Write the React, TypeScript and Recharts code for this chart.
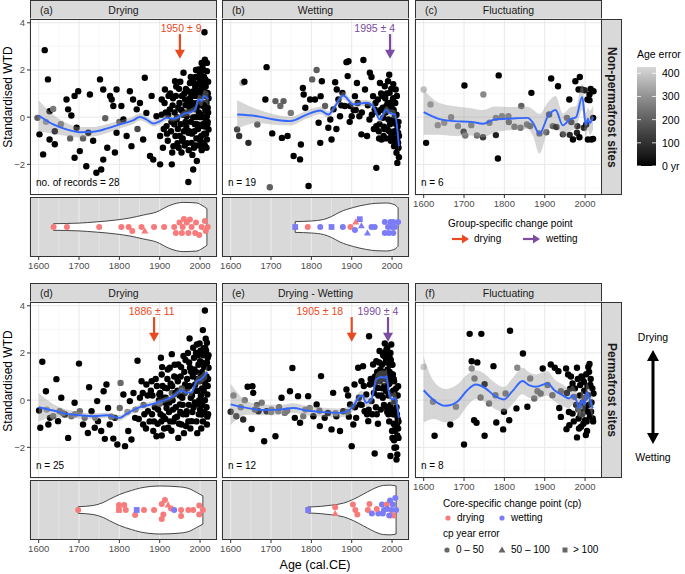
import React from "react";
import {
  Area,
  CartesianGrid,
  ComposedChart,
  Line,
  ReferenceDot,
  ReferenceLine,
  Scatter,
  XAxis,
  YAxis,
} from "recharts";

// [year, standardised WTD, age error (yr)] — age error omitted = 0
type Pt = [number, number, number?];
// [year, lower, fit, upper]
type Sm = [number, number, number, number];
// [year, violin half width]
type Vw = [number, number];
// [year, vertical offset, direction, error class 0:0-50 1:50-100 2:>100]
type Vp = [number, number, "d" | "w", number];

const xMajor = [1600, 1700, 1800, 1900, 2000];
const xMinor = [1650, 1750, 1850, 1950];
const yMajor = [-2, 0, 2, 4];
const yMinor = [-3, -1, 1, 3];
const ageTicks = [0, 100, 200, 300, 400];

const ptsA: Pt[] = [
  [1597, -0.03, 200], [1602, -0.73], [1615, 2.84], [1623, 1.6], [1611, -1.58], [1627, 0.25], [1627, -0.95],
  [1618, -0.2, 300], [1640, -0.6], [1640, -1.15], [1636, 0.35, 250], [1655, -0.3, 250], [1669, 0.75],
  [1673, 0.33], [1681, 0.07], [1689, 0.9], [1698, 1.1], [1694, -0.45], [1689, -1.72], [1702, -1.44],
  [1678, -0.9, 200], [1710, -0.9, 200], [1718, -2.08], [1727, 0.96], [1723, -0.66], [1735, -1.0],
  [1743, -2.36], [1752, 1.6], [1760, 1.17], [1755, -2.22], [1760, -1.8], [1765, -0.05, 200], [1777, 0.9],
  [1781, 0.75], [1793, 1.17], [1789, -1.5], [1793, -0.66], [1785, 0.47], [1770, -1.3], [1800, -0.2, 200],
  [1810, -0.1], [1805, 0.47], [1818, -0.8], [1826, 1.1], [1834, 0.75], [1830, -1.23], [1843, 0.33],
  [1851, 0.6], [1863, 1.67], [1867, 0.18], [1859, -0.95], [1845, -0.5, 150], [1876, -1.65], [1880, 0.9],
  [1884, -1.8], [1892, 0.04], [1901, -2.0], [1901, -0.8], [1905, 0.75], [1913, 1.17], [1917, -0.38],
  [1925, 0.33], [1930, -2.0], [1934, -1.23], [1938, 1.52], [1942, -0.1], [1950, -0.8], [1954, -1.5],
  [1959, 1.88], [1963, 0.75], [1967, 0.04], [1971, -2.75], [1971, -0.66], [1975, 1.45], [1979, -1.09],
  [1983, -2.22], [1988, 0.33], [1992, -1.86], [1992, 1.03], [1996, 2.02], [2000, 1.6], [2000, -0.38],
  [2004, 2.3], [2008, 0.47], [2011, 3.6], [2012, 2.44], [2017, 1.95], [2017, 0.04], [2018, 1.03],
  [2021, -0.52], [2017, -0.95], [1910, -0.5], [1915, 0.2], [1920, -1.0], [1922, 0.9], [1928, -0.6],
  [1932, 0.5], [1936, -0.3], [1940, 0.9], [1944, -1.1], [1946, 0.4], [1948, 1.2], [1952, -0.3], [1955, 0.9],
  [1957, -0.9], [1960, 0.2], [1962, -1.2], [1965, 1.2], [1966, -0.4], [1969, 0.6], [1972, -1.4], [1974, 0.3],
  [1977, -0.2], [1978, 1.0], [1980, -0.7], [1982, 0.6], [1984, 1.5], [1985, -1.3], [1987, -0.3], [1989, 1.7],
  [1990, 0.0], [1991, -0.9], [1993, 0.6], [1994, 1.4], [1995, -0.5], [1997, 0.2], [1998, -1.2], [1999, 1.0],
  [2001, 0.0], [2002, 1.9], [2003, -0.8], [2005, 0.9], [2006, 1.5], [2007, -0.3], [2009, 1.2], [2010, -0.7],
  [2012, 0.6], [2013, 1.6], [2014, -0.2], [2015, 0.9], [2016, -1.3], [2019, 0.4], [2020, 1.5], [2019, -0.2],
  [1985, 0.9], [1975, 0.8], [1960, -0.6], [1945, -0.5], [1998, 0.5], [2008, 2.0], [2004, -1.4], [1990, 2.0],
  [1905, 0.1], [1908, -1.3], [1912, 0.6], [1918, -0.7], [1921, 0.1], [1926, 1.0], [1929, -0.2], [1931, -1.5],
  [1933, 0.8], [1937, 0.2], [1939, -0.8], [1941, 1.3], [1943, 0.0], [1947, -1.3], [1949, 0.6], [1951, 1.5],
  [1953, 0.3], [1956, -1.0], [1958, 0.1], [1961, 1.0], [1964, -0.2], [1964, 0.5], [1968, -1.1], [1970, 1.1],
  [1973, -0.6], [1976, 0.4], [1977, 1.7], [1979, 0.5], [1981, -1.6], [1983, 0.0], [1984, 1.1], [1986, -0.6],
  [1988, 1.3], [1989, -1.2], [1991, 0.4], [1993, -0.3], [1994, 0.9], [1996, 1.1], [1997, -0.9], [1999, 1.8],
  [2000, 0.6], [2001, -1.0], [2003, 1.3], [2004, 0.1], [2006, 2.1], [2007, -1.1], [2008, 1.1], [2009, 0.0],
  [2010, 1.7], [2011, -0.4], [2012, -1.2], [2013, 0.3], [2014, 1.3], [2015, -0.7], [2016, 0.6], [2017, 2.3],
  [2018, -0.3], [2019, 1.0], [2020, 0.2], [2021, 0.8],
];

const ptsB: Pt[] = [
  [1629, 1.45, 380], [1634, 1.5], [1616, -0.52, 150], [1621, -0.8, 100], [1644, -1.09, 80], [1666, -0.31, 200],
  [1686, 0.75], [1689, 2.12], [1697, -2.97, 200], [1703, -0.69], [1711, 0.68, 200], [1723, 0.47, 220],
  [1727, -0.88], [1731, 0.68, 200], [1741, -0.8], [1749, 0.18, 250], [1756, -1.65], [1774, -1.16],
  [1772, -1.79], [1779, 1.24], [1781, 0.96], [1785, 0.4], [1793, -2.92], [1797, 0.75], [1802, 1.6, 200],
  [1813, 2.0, 200], [1809, 0.75], [1818, -0.24], [1822, -1.09], [1826, 1.52], [1823, 0.89], [1834, 0.47, 200],
  [1842, -0.45], [1847, -0.1], [1850, -0.95], [1855, 0.33], [1859, 1.48], [1863, 1.17], [1867, 0.75],
  [1871, 0.04], [1877, 1.03], [1883, 0.47], [1887, 2.33], [1892, 2.37], [1890, 1.74], [1896, 0.47],
  [1900, 0.04], [1908, 0.89], [1913, 1.45], [1919, 0.04], [1929, 2.42], [1924, -0.73], [1933, 1.17],
  [1938, -0.8], [1945, 1.88], [1949, 1.7], [1953, 0.89], [1957, 0.33], [1961, -2.15], [1961, -0.38],
  [1965, 0.75], [1970, 1.45], [1974, -0.95], [1978, -0.03], [1982, 1.31], [1986, 0.47], [1988, -0.52],
  [1990, 1.52], [1994, 1.03], [1998, -0.8], [2002, 0.75], [2005, -1.23], [2007, 0.04], [2011, -1.51],
  [2013, -1.94], [2015, -0.66], [2009, 1.17], [2015, -1.09], [1905, 0.3], [1915, 0.6], [1925, 0.2],
  [1940, 0.5], [1950, 0.1], [1955, -0.5], [1967, -0.6], [1972, 0.3], [1976, 0.9], [1980, -0.4], [1984, 0.2],
  [1992, 0.3], [1995, -0.3], [1996, 0.6], [2000, -0.2], [2003, 1.4], [2004, 0.3], [2006, -0.6], [2008, 0.6],
  [2010, -0.3], [2012, 0.9], [2014, -1.3], [2016, -0.2], [2017, -1.7], [1993, 1.8], [1987, 1.0], [1979, -0.8],
  [1968, -0.9], [1959, 0.6], [1944, -0.1], [1910, 0.3], [1895, -0.2], [1874, 0.5], [1862, -0.5],
  [1965, 0.2], [1969, -0.3], [1973, 1.0], [1977, 0.4], [1981, -0.5], [1983, 0.8], [1985, -0.9], [1989, 0.6],
  [1991, -0.1], [1997, -1.0], [1999, 0.4], [2001, -0.7], [2004, -0.1], [2006, -1.0], [2009, -0.9], [2011, 0.1],
  [2012, -0.6], [2013, -1.0], [2014, -0.4], [2016, -1.3], [2017, -0.8], [2003, 0.8], [1998, 1.2], [1993, -0.6],
];

const ptsC: Pt[] = [
  [1600, 1.17, 380], [1606, -1.09], [1617, 0.54, 300], [1635, -0.34, 280], [1651, -0.24, 280], [1668, 0, 260],
  [1685, -0.38, 260], [1701, 1.34], [1699, -0.62, 80], [1703, -0.78, 250], [1718, -0.34, 250],
  [1732, -0.78, 230], [1748, 0.96, 280], [1747, -0.85, 120], [1763, -0.24, 250], [1779, -0.76, 60],
  [1779, -0.03, 250], [1786, 1.77], [1784, -1.75], [1794, 0.04, 250], [1810, 0.04, 250], [1811, -0.21, 200],
  [1825, -0.41, 230], [1840, -0.45, 230], [1842, 0.47, 200], [1856, -0.31, 230], [1867, 1.03],
  [1864, -0.38, 200], [1887, -0.69, 200], [1904, -0.64, 200], [1911, 0.11, 150], [1916, 1.64],
  [1920, -0.38, 200], [1933, 1.31], [1929, -0.42, 120], [1945, -0.73, 80], [1955, -0.03, 200], [1961, 0.75],
  [1962, -0.75, 80], [1970, -0.95], [1966, -0.21, 100], [1976, 1.52], [1981, -0.38, 100], [1980, -0.66, 60],
  [1986, -0.85], [1987, 1.7], [1984, 1.17], [1992, 1.17], [1997, -0.45, 80], [1999, 1.14, 60], [2007, -0.95],
  [2011, 0.72], [2011, 0.96], [2014, 1.2], [2016, -0.95], [2020, -0.03], [2021, 1.1], [2020, -0.92],
  [2003, -0.31], [2006, 0.75],
];

const ptsD: Pt[] = [
  [1604, -1.17], [1601, -0.44], [1609, 1.63], [1618, 0.38], [1624, -1.03], [1628, -0.75], [1636, -0.68, 220],
  [1644, 0.89], [1648, -0.89], [1656, 0.1], [1652, -0.47, 220], [1665, -0.61], [1673, -1.6], [1681, -0.68, 220],
  [1689, -0.11], [1700, 1.55], [1702, -0.47, 220], [1710, -1.03], [1714, -0.75, 220], [1722, -1.39],
  [1725, 0.55], [1731, -0.47], [1739, -1.17], [1745, -0.04], [1747, -0.89], [1755, -1.31], [1761, 0.38],
  [1764, -1.64], [1768, 0.66], [1772, -0.33], [1776, -1.03], [1785, -1.63], [1789, -0.75], [1795, -1.88],
  [1801, -0.33, 220], [1803, 0.73, 220], [1814, -1.95], [1810, 0.24], [1822, -1.31], [1826, -0.04],
  [1830, -1.67], [1839, -0.75], [1845, 1.67], [1851, 0.1], [1859, -1.03], [1867, 0.66], [1871, -0.47],
  [1880, 0.8], [1884, -1.31], [1892, -1.53], [1899, 0.24], [1903, 1.8], [1905, 1.09], [1909, -0.68],
  [1913, 0.52], [1917, -0.33], [1921, -1.17], [1925, 1.37], [1930, 1.95], [1934, 0.24], [1938, -0.75],
  [1942, 0.95], [1946, 1.51], [1950, -0.18], [1954, -1.03], [1959, 1.87], [1963, 0.66], [1967, -0.47],
  [1974, 2.61], [1975, 1.37], [1979, -0.89], [1983, 2.22], [1988, 0.66], [1992, 2.36], [1996, -0.18],
  [2000, 1.65], [2004, -0.61], [2007, 2.97], [2010, 0.95], [2012, 3.8], [2015, 2.08], [2017, 2.43],
  [2018, 0.24], [2021, 1.37], [2017, -1.03], [1855, 0.8], [1862, -0.6], [1870, 0.2], [1875, -0.9], [1878, 0.4],
  [1888, -0.3], [1890, 0.9], [1895, -1.0], [1898, 0.0], [1902, -0.6], [1907, 0.6], [1911, -1.2], [1915, 0.1],
  [1919, 0.9], [1923, -0.5], [1927, 0.7], [1929, -1.3], [1932, 0.0], [1936, 1.0], [1940, -0.3], [1944, 0.4],
  [1948, -1.0], [1952, 1.0], [1956, 0.1], [1958, -0.6], [1961, 1.2], [1965, -1.1], [1969, 0.5], [1972, -0.2],
  [1973, 1.6], [1977, 0.1], [1981, -0.5], [1982, 1.0], [1985, 1.8], [1987, -0.1], [1990, 1.2], [1991, -0.9],
  [1994, 0.4], [1995, 1.9], [1997, -0.6], [1999, 0.8], [2001, 2.1], [2002, 0.2], [2003, -1.2], [2005, 1.2],
  [2006, -0.2], [2008, 1.9], [2009, 0.4], [2011, -0.5], [2012, 1.5], [2013, 0.7], [2014, 2.6], [2016, 1.0],
  [2016, -0.3], [2019, 1.8], [2019, 0.6], [2020, -0.6], [1993, -1.4], [1976, -1.2], [1960, -1.4],
  [1946, -1.6], [1934, -0.9], [1912, -0.1], [1905, -1.5], [1881, -0.6], [1866, -1.2], [1858, 0.3],
  [1848, -0.8], [1835, 0.3], [1820, -0.5, 300], [1840, -0.4, 250], [1780, -0.7, 200], [1740, -0.75, 250],
  [1690, -0.6, 250], [1660, -0.55, 200], [1620, -0.4, 300], [1860, -0.2, 200], [1900, -0.15, 200],
  [1930, 0.3, 180], [1955, 0.5, 150], [1882, 0.2], [1886, -0.9], [1893, 0.6], [1896, -0.4], [1901, 0.3],
  [1904, -0.9], [1906, 1.4], [1910, 0.1], [1914, -0.8], [1918, 0.5], [1920, 1.3], [1924, -0.1], [1926, -0.9],
  [1931, 0.6], [1933, -0.4], [1937, 1.5], [1939, 0.3], [1943, -0.7], [1945, 0.8], [1949, 0.2], [1951, -0.5],
  [1953, 1.4], [1957, -0.2], [1962, 0.3], [1964, 1.7], [1966, -0.6], [1968, 0.9], [1970, 2.0], [1971, -0.9],
  [1974, 0.6], [1978, 1.2], [1980, 0.2], [1984, -0.3], [1986, 1.3], [1989, 0.4], [1990, 2.0], [1993, 0.9],
  [1996, 1.5], [1998, 0.0], [1999, 2.4], [2000, -0.4], [2002, 1.0], [2004, 1.6], [2005, 0.5], [2007, -0.9],
  [2009, 2.2], [2010, 1.4], [2012, 0.0], [2013, 2.2], [2015, 0.6], [2017, 1.6], [2018, -0.7], [2020, 0.9],
  [2021, 1.9],
];

const ptsE: Pt[] = [
  [1600, -0.49, 80], [1607, 0.2, 250], [1614, -0.68, 80], [1631, -0.82, 80], [1635, 0, 250], [1642, 0.57],
  [1654, 0.59], [1656, 0.31], [1652, -1.22], [1669, -0.47], [1677, -0.11, 250], [1683, -1.74], [1689, -0.47],
  [1701, -0.4, 250], [1711, -1.53], [1718, -0.47, 250], [1726, 0.1], [1734, -0.54, 250], [1747, 0.38],
  [1753, 1.36], [1759, -0.75], [1767, 0.17], [1772, -0.96], [1780, -0.68, 250], [1792, 0.17],
  [1796, -0.33, 250], [1805, -0.68], [1813, -0.18], [1821, -1.1], [1824, 1.02], [1833, -0.75], [1841, -0.54],
  [1850, -1.24], [1854, 0.31], [1862, -0.68], [1871, -1.31], [1879, -0.47], [1887, 0.45], [1891, 0.2],
  [1896, -0.18], [1900, -1.95], [1904, -1.03], [1907, 0.66], [1911, -0.75], [1916, 1.37], [1920, -0.18],
  [1924, 0.8], [1928, 1.44], [1932, -0.47], [1936, 0.24], [1941, -0.89], [1943, 2.71], [1945, 0.66],
  [1949, -0.04], [1953, 1.51], [1957, -2.26], [1961, 1.65], [1965, 0.52], [1969, 2.08], [1973, 1.09],
  [1977, 0.1], [1981, 1.87], [1986, 2.15], [1990, 0.66], [1994, 1.8], [1998, 2.36], [1996, -2.37],
  [2000, -1.31], [2002, 1.09], [2006, -2.02], [2008, -0.61], [2011, -2.52], [2012, -1.03], [2015, 0.59],
  [2016, -1.6], [2006, -0.04], [2002, -0.47], [1925, -0.2], [1930, 0.6], [1938, -0.6], [1947, 0.9],
  [1951, -0.6], [1955, 0.3], [1958, 1.0], [1960, -0.3], [1963, 1.2], [1966, 0.2], [1968, 1.6], [1970, 0.8],
  [1972, -0.4], [1975, 1.5], [1976, 0.5], [1979, 1.2], [1980, -0.2], [1983, 0.9], [1984, 1.6], [1985, 0.4],
  [1987, 1.9], [1988, -0.5], [1989, 1.3], [1991, 0.2], [1992, 1.0], [1993, -0.9], [1995, 1.5], [1997, 0.3],
  [1999, -0.4], [2000, 1.0], [2001, -1.6], [2003, 0.4], [2004, -1.0], [2005, 0.8], [2007, -1.3], [2009, 0.2],
  [2010, -2.0], [2011, -0.3], [2013, -1.5], [2014, -0.8], [1996, 2.0], [1982, 2.4], [1978, 1.9],
  [1965, -1.0], [1942, -0.4], [1918, 0.1], [1908, -0.3], [1893, -0.7], [1625, -0.3, 250], [1660, -0.4, 200],
  [1700, -0.5, 250], [1740, -0.45, 220], [1785, -0.4, 250], [1820, -0.45, 200], [1860, -0.55, 250],
  [1890, -0.5, 200], [1665, -0.2, 200], [1720, -0.3, 200], [1950, 0.9], [1957, 0.7], [1962, -0.6],
  [1967, 0.9], [1971, 1.3], [1974, 0.2], [1977, 2.0], [1981, 0.6], [1984, 1.1], [1986, -0.3], [1988, 2.2],
  [1990, 1.6], [1991, -0.6], [1993, 0.7], [1994, 1.2], [1996, -0.2], [1997, 1.7], [1998, 0.8], [2000, 0.3],
  [2001, 1.5], [2003, -0.6], [2004, 0.9], [2005, -1.7], [2006, 0.4], [2008, -1.1], [2009, -0.4], [2010, 0.5],
  [2012, -0.6], [2013, -2.3], [2015, -1.2], [2016, -0.9], [2014, 0.2], [1999, 1.1], [1992, 2.0], [1985, 1.7],
];

const ptsF: Pt[] = [
  [1600, 1.41, 400], [1623, -0.07, 250], [1627, -1.51], [1666, -1.03], [1680, -0.28, 250], [1700, -1.88],
  [1714, 2.81], [1719, 1.65], [1719, 1.34, 280], [1726, 0.92, 220], [1733, 1.6], [1725, -0.85], [1731, -0.96],
  [1743, 2.81], [1741, 0.11, 220], [1751, 0.68], [1751, -1.51], [1762, -0.14, 220], [1773, 1.44],
  [1778, 0.21, 220], [1780, -0.95], [1797, -1.24], [1799, -0.49], [1803, 0.28, 220], [1814, 2.94],
  [1812, -0.85], [1830, -0.35], [1832, 1.37, 280], [1846, 1.98], [1857, -0.28], [1864, 0.92, 230],
  [1874, 0.07, 220], [1882, 0.38, 220], [1890, 0.28, 200], [1895, 1.34], [1907, 0.64, 200], [1915, 1.51],
  [1919, 0.21, 200], [1925, 1.37], [1934, 1.23], [1936, -0.33], [1940, -0.71], [1940, 0.38, 200],
  [1953, 1.34], [1954, -1.23], [1958, 1.09], [1961, -1.06], [1963, 0.49], [1969, 0.71], [1969, -0.57],
  [1973, 0.14, 200], [1980, 1.37], [1980, -1.58], [1984, -0.78], [1986, -0.24, 200], [1988, 0.64],
  [1990, -1.13], [1993, 0.92], [1995, -0.49], [1997, 0.78], [2000, -0.85], [2002, -1.48], [2005, -1.31],
  [2007, 0.21], [2008, 1.41], [2011, 1.53], [2013, 0.64], [2015, -0.49], [2019, -0.78], [2021, 0.28],
  [2007, -0.49], [1955, 0.3], [1960, -0.5], [1965, 1.0], [1972, -0.9], [1975, 0.5], [1978, -0.2], [1982, 0.9],
  [1985, -1.2], [1987, 0.2], [1989, -0.6], [1991, 1.0], [1994, -0.1], [1996, -1.0], [1998, 0.4], [2001, -0.3],
  [2003, 1.1], [2004, -0.9], [2006, 0.6], [2009, -0.2], [2010, 1.2], [2012, -0.7], [2014, 0.9], [2016, -0.1],
  [2018, 0.5], [2020, -0.9], [1983, -0.4, 150], [1993, -0.6, 150], [2000, 0.1, 150],
];

const smA: Sm[] = [
  [1600, -0.6, 0.07, 0.72], [1636, -0.7, -0.31, 0.1], [1669, -0.8, -0.52, -0.25], [1702, -0.86, -0.64, -0.42],
  [1735, -0.82, -0.62, -0.42], [1768, -0.68, -0.49, -0.3], [1801, -0.48, -0.31, -0.14], [1834, -0.3, -0.14, 0.02],
  [1851, -0.14, 0.01, 0.16], [1867, -0.24, -0.1, 0.04], [1884, -0.4, -0.27, -0.14], [1901, -0.3, -0.17, -0.04],
  [1917, -0.15, -0.03, 0.09], [1934, -0.19, -0.07, 0.05], [1950, -0.08, 0.04, 0.16], [1963, 0.02, 0.16, 0.3],
  [1975, 0.05, 0.2, 0.35], [1988, 0.15, 0.32, 0.49], [1996, 0.55, 0.75, 0.95], [2004, 0.45, 0.68, 0.91],
  [2010, 0.65, 0.9, 1.15], [2021, 0.45, 0.75, 1.05],
];
const smB: Sm[] = [
  [1616, -0.5, 0.11, 0.72], [1666, -0.25, 0.04, 0.33], [1707, -0.32, -0.1, 0.12], [1748, -0.35, -0.17, 0.01],
  [1789, -0.06, 0.11, 0.28], [1822, 0.12, 0.28, 0.44], [1842, -0.03, 0.11, 0.25], [1859, 0.32, 0.47, 0.62],
  [1879, 0.75, 0.92, 1.09], [1904, 0.4, 0.54, 0.68], [1937, 0.48, 0.61, 0.74], [1953, 0.33, 0.47, 0.61],
  [1970, -0.25, -0.1, 0.05], [1986, 0.17, 0.32, 0.47], [1994, 0.02, 0.18, 0.34], [2007, -0.07, 0.11, 0.29],
  [2017, -1.55, -1.23, -0.91],
];
const smC: Sm[] = [
  [1600, -0.75, 0.21, 1.17], [1635, -0.75, -0.06, 0.63], [1676, -0.8, -0.17, 0.46], [1718, -0.78, -0.2, 0.38],
  [1747, -0.85, -0.28, 0.3], [1776, -0.65, -0.1, 0.45], [1817, -0.55, -0.06, 0.43], [1858, -0.5, -0.03, 0.44],
  [1871, -0.8, -0.24, 0.32], [1887, -1.55, -0.71, 0.13], [1908, -0.55, 0.04, 0.63], [1927, -0.3, 0.3, 0.9],
  [1945, -0.85, -0.35, 0.15], [1962, -0.6, -0.1, 0.4], [1978, -0.45, 0.01, 0.47], [1993, 0.3, 0.86, 1.42],
  [2002, -0.85, -0.34, 0.17], [2007, -0.55, -0.07, 0.41], [2012, -0.75, -0.24, 0.27], [2020, -0.5, 0, 0.5],
];
const smD: Sm[] = [
  [1600, -0.9, -0.3, 0.3], [1636, -0.72, -0.44, -0.16], [1669, -0.76, -0.58, -0.4], [1702, -0.78, -0.64, -0.5],
  [1735, -0.8, -0.68, -0.56], [1768, -0.76, -0.64, -0.52], [1801, -0.87, -0.75, -0.63], [1818, -0.7, -0.58, -0.46],
  [1851, -0.42, -0.3, -0.18], [1884, -0.28, -0.16, -0.04], [1917, -0.09, 0.03, 0.15], [1934, 0.04, 0.17, 0.3],
  [1954, 0.27, 0.41, 0.55], [1967, 0.16, 0.31, 0.46], [1979, 0.19, 0.34, 0.49], [1992, 0.63, 0.81, 0.99],
  [2002, 0.68, 0.88, 1.08], [2010, 0.8, 1.02, 1.24], [2018, 0.92, 1.2, 1.48],
];
const smE: Sm[] = [
  [1600, -1.05, -0.18, 0.69], [1640, -0.62, -0.33, -0.04], [1681, -0.64, -0.42, -0.2], [1722, -0.6, -0.4, -0.2],
  [1755, -0.53, -0.33, -0.13], [1788, -0.64, -0.44, -0.24], [1829, -0.7, -0.51, -0.32], [1871, -0.73, -0.54, -0.35],
  [1887, -0.68, -0.49, -0.3], [1904, -0.45, -0.25, -0.05], [1920, -0.03, 0.17, 0.37], [1926, 0.0, 0.2, 0.4],
  [1936, -0.31, -0.11, 0.09], [1949, -0.17, 0.03, 0.23], [1961, 0.63, 0.88, 1.13], [1974, 0.7, 0.98, 1.26],
  [1982, 0.65, 0.95, 1.25], [1986, 0.72, 1.02, 1.32], [1993, -0.04, 0.24, 0.52], [2001, -0.22, 0.03, 0.28],
  [2007, -0.17, 0.1, 0.37], [2017, -1.1, -0.75, -0.4],
];
const smF: Sm[] = [
  [1600, -0.95, 0.42, 1.84], [1625, -0.8, 0, 0.8], [1654, -0.95, -0.24, 0.47], [1683, -0.8, -0.07, 0.66],
  [1708, -0.25, 0.42, 1.09], [1729, 0.05, 0.66, 1.27], [1754, -0.1, 0.49, 1.08], [1774, -0.35, 0.21, 0.77],
  [1799, -0.5, 0.03, 0.56], [1820, -0.17, 0.38, 0.93], [1845, 0.25, 0.81, 1.37], [1861, 0.1, 0.64, 1.18],
  [1878, 0.05, 0.57, 1.09], [1907, 0.2, 0.71, 1.22], [1924, -0.05, 0.42, 0.89], [1944, -0.25, 0.21, 0.67],
  [1961, -0.35, 0.07, 0.49], [1969, -0.2, 0.21, 0.62], [1978, -0.4, 0, 0.4], [1986, -0.75, -0.35, 0.05],
  [1992, -0.4, 0, 0.4], [1998, -0.6, -0.21, 0.18], [2005, -0.05, 0.35, 0.75], [2011, -0.35, 0.07, 0.49],
  [2019, -0.8, -0.35, 0.1],
];

const vioA: Vw[] = [
  [1637, 0.11], [1700, 0.13], [1743, 0.17], [1790, 0.23], [1826, 0.3], [1860, 0.4], [1892, 0.5],
  [1925, 0.72], [1958, 0.82], [1992, 0.8], [2005, 0.72], [2017, 0.61],
];
const vioB: Vw[] = [
  [1760, 0.18], [1800, 0.2], [1830, 0.25], [1850, 0.35], [1871, 0.5], [1904, 0.65], [1937, 0.75],
  [1960, 0.79], [1986, 0.8], [2005, 0.75], [2015, 0.64],
];
const vioD: Vw[] = [
  [1698, 0.11], [1735, 0.15], [1760, 0.25], [1776, 0.36], [1801, 0.52], [1830, 0.65], [1851, 0.73],
  [1901, 0.8], [1950, 0.77], [1975, 0.7], [1992, 0.58], [2007, 0.47],
];
const vioE: Vw[] = [
  [1791, 0.1], [1822, 0.12], [1850, 0.16], [1880, 0.23], [1905, 0.36], [1929, 0.53], [1950, 0.68],
  [1965, 0.77], [1979, 0.82], [1995, 0.83], [2010, 0.8],
];

const cpA: Vp[] = [
  [1637, 0, "d", 0], [1670, 0, "d", 0], [1750, 0, "d", 0], [1805, 0, "d", 0], [1823, 0, "d", 0],
  [1832, -0.13, "d", 0], [1855, 0, "d", 0], [1863, -0.13, "d", 1], [1886, 0, "d", 0], [1911, 0, "d", 0],
  [1936, 0, "d", 0], [1940, -0.2, "d", 0], [1949, 0.15, "d", 0], [1955, -0.2, "d", 0], [1957, 0, "d", 0],
  [1960, 0.27, "d", 0], [1967, 0.15, "d", 0], [1971, -0.2, "d", 0], [1975, 0.25, "d", 0], [1979, 0, "d", 0],
  [1988, -0.2, "d", 0], [1990, 0.15, "d", 0], [1998, -0.27, "d", 0], [2004, 0, "d", 0], [2012, 0.2, "d", 0],
  [2014, -0.13, "d", 0], [2019, 0, "d", 0],
];
const cpB: Vp[] = [
  [1760, 0, "w", 2], [1791, 0, "d", 0], [1822, 0, "w", 0], [1850, 0, "w", 2], [1878, 0, "w", 0],
  [1897, 0, "d", 0], [1910, 0.17, "d", 1], [1908, -0.1, "w", 0], [1920, 0.26, "w", 2], [1924, 0.04, "w", 1],
  [1939, -0.2, "w", 1], [1949, 0, "w", 0], [1957, 0, "w", 0], [1982, 0.17, "w", 0], [1982, -0.2, "w", 0],
  [1990, 0, "w", 0], [1992, -0.2, "w", 0], [1996, 0.17, "w", 0], [2000, 0, "w", 0], [2003, -0.2, "w", 0],
  [2007, 0, "w", 0], [2003, 0.17, "w", 0], [2015, 0.17, "w", 0],
];
const cpD: Vp[] = [
  [1698, 0, "d", 0], [1799, 0.17, "d", 0], [1799, 0, "d", 2], [1812, 0.17, "d", 0], [1816, 0, "d", 0],
  [1839, -0.17, "d", 0], [1843, 0, "w", 2], [1861, 0, "d", 0], [1886, 0, "d", 0], [1905, 0.2, "d", 0],
  [1913, 0.33, "d", 0], [1921, 0.17, "d", 1], [1909, -0.15, "d", 0], [1905, -0.3, "d", 0], [1928, 0.05, "d", 0],
  [1936, 0, "w", 0], [1953, 0, "d", 0], [1953, -0.2, "d", 0], [1971, 0, "d", 0], [1983, 0, "d", 0],
  [1998, 0.15, "d", 0], [1998, -0.15, "d", 0], [2007, 0, "d", 0],
];
const cpE: Vp[] = [
  [1792, 0, "w", 2], [1859, 0.09, "d", 0], [1859, -0.12, "d", 1], [1903, 0.18, "d", 0], [1909, 0, "d", 0],
  [1914, -0.15, "d", 0], [1944, 0.2, "d", 0], [1940, 0, "d", 0], [1950, -0.12, "w", 0], [1966, -0.12, "w", 0],
  [1962, 0.03, "d", 0], [1975, 0.18, "w", 0], [1980, 0, "w", 0], [1987, 0.18, "d", 0], [1988, 0.03, "w", 0],
  [1995, 0.32, "w", 0], [1999, 0, "w", 0], [2002, 0.18, "w", 0], [2008, 0.4, "w", 0], [2010, 0, "w", 0],
  [2002, -0.18, "d", 2], [1993, -0.18, "w", 0], [1977, -0.12, "w", 0],
];

const FONT = '"Liberation Sans", Arial, Helvetica, sans-serif';
const DRY = "#E9491E";
const WET = "#7B4C9F";
const DRY_PT = "#F87B7B";
const WET_PT = "#7C7CF7";
const X_DOM: [number, number] = [1578.5, 2042];
const Y_DOM: [number, number] = [-3.3, 4.16];
const PW = 187;
const PH = 176;
const VH = 60;
const M0 = { top: 0, right: 0, bottom: 0, left: 0 };

// grey gradient (black -> grey85), interpolated in lightness like ggplot
function ageColor(e: number) {
  const t = Math.max(0, Math.min(e, 430)) / 430;
  const L = t * 87;
  const Y = L > 8 ? Math.pow((L + 16) / 116, 3) : L / 903.3;
  const s = Y <= 0.0031308 ? 12.92 * Y : 1.055 * Math.pow(Y, 1 / 2.4) - 0.055;
  const v = Math.round(Math.min(1, s) * 255);
  return `rgb(${v},${v},${v})`;
}

const minus = (v: number) => (v < 0 ? `\u2212${-v}` : `${v}`);

const dotShape = (p: any) => <circle cx={p.cx} cy={p.cy} r={3.2} fill={ageColor(p.payload.e)} />;

const cpShape = (p: any) => {
  const c = p.payload.d === "d" ? DRY_PT : WET_PT;
  if (p.payload.k === 1)
    return <polygon points={`${p.cx},${p.cy - 3.6} ${p.cx + 3.5},${p.cy + 2.5} ${p.cx - 3.5},${p.cy + 2.5}`} fill={c} />;
  if (p.payload.k === 2) return <rect x={p.cx - 2.9} y={p.cy - 2.9} width={5.8} height={5.8} fill={c} />;
  return <circle cx={p.cx} cy={p.cy} r={3} fill={c} />;
};

const arrowShape = (color: string) => (p: any) => {
  const { x1, y1, x2, y2 } = p;
  return (
    <g>
      <line x1={x1} y1={y1} x2={x2} y2={y2 - 6} stroke={color} strokeWidth={2.2} />
      <polygon points={`${x2 - 5},${y2 - 9} ${x2 + 5},${y2 - 9} ${x2},${y2}`} fill={color} />
    </g>
  );
};

type Arrow = { x: number; lx: number; text: string; c: string };

const tickStyle = { fill: "#4d4d4d", fontSize: 9.5, fontFamily: FONT };

function Panel(props: {
  left: number;
  top: number;
  tag: string;
  title: string;
  pts: Pt[];
  sm: Sm[];
  note: string;
  showY?: boolean;
  arrows?: Arrow[];
  vio?: Vw[];
  cps?: Vp[];
}) {
  const { left, top, tag, title, pts, sm, note, showY, arrows = [], vio, cps = [] } = props;
  const data = pts.map(([x, y, e = 0]) => ({ x, y, e }));
  const smooth = sm.map(([x, lo, fit, hi]) => ({ x, lo, fit, hi }));
  const vw = (vio || []).map(([x, w]) => ({ x, w }));
  const cp = cps.map(([x, o, d, k]) => ({ x, o, d, k }));
  const yw = showY ? 30 : 0;
  const box = (t: number, h: number, bg?: string): React.CSSProperties => ({
    position: "absolute",
    left,
    top: t,
    width: PW,
    height: h,
    boxSizing: "border-box",
    border: "1px solid #333",
    background: bg || "transparent",
    pointerEvents: "none",
  });
  return (
    <>
      <div style={{ ...box(top - 19, 20, "#d9d9d9"), fontSize: 10.5, color: "#1a1a1a", lineHeight: "18px" }}>
        <span style={{ position: "absolute", left: 9 }}>{tag}</span>
        <div style={{ textAlign: "center" }}>{title}</div>
      </div>
      {/* points layer */}
      <div style={{ position: "absolute", left: left - yw, top }}>
        <ComposedChart width={PW + yw} height={PH + (vio ? 0 : 20)} margin={M0}>
          <XAxis
            xAxisId="mj"
            dataKey="x"
            type="number"
            domain={X_DOM}
            ticks={xMajor}
            interval={0}
            allowDataOverflow
            hide={!!vio}
            height={20}
            tickSize={3}
            tickMargin={2}
            axisLine={false}
            tickLine={{ stroke: "#333" }}
            tick={tickStyle}
          />
          <XAxis xAxisId="mn" dataKey="x" type="number" domain={X_DOM} ticks={xMinor} allowDataOverflow hide />
          <YAxis
            yAxisId="mj"
            type="number"
            domain={Y_DOM}
            ticks={yMajor}
            interval={0}
            allowDataOverflow
            hide={!showY}
            width={30}
            tickSize={3}
            tickMargin={2}
            axisLine={false}
            tickLine={{ stroke: "#333" }}
            tick={tickStyle}
            tickFormatter={minus}
          />
          <YAxis yAxisId="mn" type="number" domain={Y_DOM} ticks={yMinor} allowDataOverflow hide />
          <CartesianGrid xAxisId="mn" yAxisId="mn" stroke="#f3f3f3" strokeWidth={0.7} fill="#fff" />
          <CartesianGrid xAxisId="mj" yAxisId="mj" stroke="#e8e8e8" />
          <Scatter xAxisId="mj" yAxisId="mj" data={data} dataKey="y" shape={dotShape} isAnimationActive={false} />
        </ComposedChart>
      </div>
      {/* smooth + ribbon + change-point arrows layer */}
      <div style={{ position: "absolute", left, top }}>
        <ComposedChart width={PW} height={PH} margin={M0}>
          <XAxis xAxisId="mj" dataKey="x" type="number" domain={X_DOM} allowDataOverflow hide />
          <YAxis yAxisId="mj" type="number" domain={Y_DOM} allowDataOverflow hide />
          <Area
            xAxisId="mj"
            yAxisId="mj"
            data={smooth}
            dataKey={(d: any) => [d.lo, d.hi]}
            type="monotone"
            fill="#999999"
            fillOpacity={0.4}
            stroke="none"
            isAnimationActive={false}
          />
          <Line
            xAxisId="mj"
            yAxisId="mj"
            data={smooth}
            dataKey="fit"
            type="monotone"
            stroke="#3366FF"
            strokeWidth={1.9}
            dot={false}
            isAnimationActive={false}
          />
          {arrows.map((a) => (
            <ReferenceLine
              key={a.text}
              xAxisId="mj"
              yAxisId="mj"
              segment={[
                { x: a.x, y: 3.52 },
                { x: a.x, y: 2.47 },
              ]}
              shape={arrowShape(a.c)}
            />
          ))}
          {arrows.map((a) => (
            <ReferenceDot
              key={a.text + "l"}
              xAxisId="mj"
              yAxisId="mj"
              x={a.lx}
              y={3.76}
              r={0}
              shape={(p: any) => (
                <text x={p.cx} y={p.cy} dy="0.35em" textAnchor="middle" fill={a.c} fontSize={10.5} fontFamily={FONT}>
                  {a.text}
                </text>
              )}
            />
          ))}
        </ComposedChart>
      </div>
      <div style={box(top, PH)} />
      <div style={{ position: "absolute", left: left + 6, top: top + PH - 18, fontSize: 10, color: "#000" }}>{note}</div>
      {vio && (
        <>
          <div style={{ position: "absolute", left, top: top + PH + 2 }}>
            <ComposedChart width={PW} height={VH + 20} margin={M0}>
              <XAxis
                xAxisId="mj"
                dataKey="x"
                type="number"
                domain={X_DOM}
                ticks={xMajor}
                interval={0}
                allowDataOverflow
                height={20}
                tickSize={3}
                tickMargin={2}
                axisLine={false}
                tickLine={{ stroke: "#333" }}
                tick={tickStyle}
              />
              <XAxis xAxisId="mn" dataKey="x" type="number" domain={X_DOM} ticks={xMinor} allowDataOverflow hide />
              <YAxis yAxisId="v" type="number" domain={[-1, 1]} allowDataOverflow hide />
              <CartesianGrid xAxisId="mn" yAxisId="v" horizontal={false} stroke="#ececec" strokeWidth={0.6} fill="#d9d9d9" />
              <CartesianGrid xAxisId="mj" yAxisId="v" horizontal={false} stroke="#ececec" />
              <Area
                xAxisId="mj"
                yAxisId="v"
                data={vw}
                dataKey={(d: any) => [-d.w, d.w]}
                type="monotone"
                fill="#fff"
                fillOpacity={1}
                stroke="#333"
                strokeWidth={0.9}
                isAnimationActive={false}
              />
              {[vw[0], vw[vw.length - 1]].map((d, i) => (
                <ReferenceLine
                  key={i}
                  xAxisId="mj"
                  yAxisId="v"
                  segment={[
                    { x: d.x, y: -d.w },
                    { x: d.x, y: d.w },
                  ]}
                  stroke="#333"
                  strokeWidth={0.9}
                />
              ))}
              <Scatter xAxisId="mj" yAxisId="v" data={cp} dataKey="o" shape={cpShape} isAnimationActive={false} />
            </ComposedChart>
          </div>
          <div style={box(top + PH + 2, VH)} />
        </>
      )}
    </>
  );
}

function SideStrip({ top, text }: { top: number; text: string }) {
  return (
    <div
      style={{
        position: "absolute",
        left: 601,
        top,
        width: 21,
        height: PH,
        boxSizing: "border-box",
        border: "1px solid #333",
        background: "#d9d9d9",
        display: "flex",
        alignItems: "center",
        justifyContent: "center",
        writingMode: "vertical-rl",
        fontWeight: "bold",
        fontSize: 12,
        color: "#1a1a1a",
      }}
    >
      {text}
    </div>
  );
}

function YTitle({ cy }: { cy: number }) {
  return (
    <div
      style={{
        position: "absolute",
        left: 8 - 100,
        top: cy - 8,
        width: 200,
        height: 16,
        lineHeight: "16px",
        textAlign: "center",
        fontSize: 12,
        color: "#000",
        transform: "rotate(-90deg)",
      }}
    >
      Standardised WTD
    </div>
  );
}

function Legends() {
  const barTop = 67;
  const barH = 99;
  const pos = (v: number) => barTop + barH - (v / 427) * barH;
  const t: React.CSSProperties = { position: "absolute", fontSize: 10, color: "#000", whiteSpace: "nowrap" };
  return (
    <>
      <div style={{ ...t, left: 637, top: 48, fontSize: 10.5 }}>Age error</div>
      <svg style={{ position: "absolute", left: 637, top: barTop }} width={19} height={barH}>
        <defs>
          <linearGradient id="ageGrad" x1="0" y1="1" x2="0" y2="0">
            {[0, 50, 100, 150, 200, 250, 300, 350, 427].map((v) => (
              <stop key={v} offset={v / 427} stopColor={ageColor(v)} />
            ))}
          </linearGradient>
        </defs>
        <rect x={0} y={0} width={19} height={barH} fill="url(#ageGrad)" />
        {ageTicks.map((v) => (
          <g key={v} stroke="#fff" strokeWidth={0.8}>
            <line x1={0} x2={4} y1={pos(v) - barTop} y2={pos(v) - barTop} />
            <line x1={15} x2={19} y1={pos(v) - barTop} y2={pos(v) - barTop} />
          </g>
        ))}
      </svg>
      {ageTicks.map((v) => (
        <div key={v} style={{ ...t, left: 662, top: pos(v) - 6, fontSize: 10.5 }}>
          {v === 0 ? "0  yr" : v}
        </div>
      ))}

      <div style={{ ...t, left: 448, top: 218 }}>Group-specific change point</div>
      <svg style={{ position: "absolute", left: 448, top: 232 }} width={100} height={14}>
        <line x1={4} y1={7} x2={15} y2={7} stroke={DRY} strokeWidth={2.2} />
        <polygon points="14,2.5 21,7 14,11.5" fill={DRY} />
        <line x1={75} y1={7} x2={86} y2={7} stroke={WET} strokeWidth={2.2} />
        <polygon points="85,2.5 92,7 85,11.5" fill={WET} />
      </svg>
      <div style={{ ...t, left: 474, top: 233 }}>drying</div>
      <div style={{ ...t, left: 546, top: 233 }}>wetting</div>

      <div style={{ ...t, left: 443, top: 498 }}>Core-specific change point (cp)</div>
      <svg style={{ position: "absolute", left: 440, top: 512 }} width={150} height={44}>
        <circle cx={8} cy={6} r={2.6} fill={DRY_PT} />
        <circle cx={62} cy={6} r={2.6} fill={WET_PT} />
        <circle cx={7} cy={38} r={2.6} fill="#666" />
        <polygon points="62,34.5 65.5,40.5 58.5,40.5" fill="#666" />
        <rect x={122.5} y={35.5} width={5} height={5} fill="#666" />
      </svg>
      <div style={{ ...t, left: 457, top: 512 }}>drying</div>
      <div style={{ ...t, left: 511, top: 512 }}>wetting</div>
      <div style={{ ...t, left: 443, top: 528 }}>cp year error</div>
      <div style={{ ...t, left: 456, top: 544 }}>0 – 50</div>
      <div style={{ ...t, left: 511, top: 544 }}>50 – 100</div>
      <div style={{ ...t, left: 573, top: 544 }}>&gt; 100</div>

      <div style={{ ...t, left: 632, top: 331, width: 42, textAlign: "center", fontSize: 10.5 }}>Drying</div>
      <svg style={{ position: "absolute", left: 645, top: 349 }} width={16} height={96}>
        <line x1={8} y1={8} x2={8} y2={88} stroke="#000" strokeWidth={3} />
        <polygon points="2,12 14,12 8,1" fill="#000" />
        <polygon points="2,84 14,84 8,95" fill="#000" />
      </svg>
      <div style={{ ...t, left: 627, top: 451, width: 52, textAlign: "center", fontSize: 10.5 }}>Wetting</div>
    </>
  );
}

export default function App() {
  const r1 = 19;
  const r2 = 302;
  return (
    <div
      style={{
        position: "absolute",
        left: 0,
        top: 0,
        width: 685,
        height: 574,
        background: "#fff",
        fontFamily: FONT,
        overflow: "hidden",
      }}
    >
      <style>{".recharts-surface{overflow:visible}"}</style>
      <YTitle cy={97} />
      <YTitle cy={381} />
      <Panel
        left={30}
        top={r1}
        tag="(a)"
        title="Drying"
        pts={ptsA}
        sm={smA}
        note="no. of records = 28"
        showY
        arrows={[{ x: 1950, lx: 1953, text: "1950 ± 9", c: DRY }]}
        vio={vioA}
        cps={cpA}
      />
      <Panel
        left={222}
        top={r1}
        tag="(b)"
        title="Wetting"
        pts={ptsB}
        sm={smB}
        note="n = 19"
        arrows={[{ x: 1995, lx: 1957, text: "1995 ± 4", c: WET }]}
        vio={vioB}
        cps={cpB}
      />
      <Panel left={415} top={r1} tag="(c)" title="Fluctuating" pts={ptsC} sm={smC} note="n = 6" />
      <SideStrip top={r1} text="Non-permafrost sites" />
      <Panel
        left={30}
        top={r2}
        tag="(d)"
        title="Drying"
        pts={ptsD}
        sm={smD}
        note="n = 25"
        showY
        arrows={[{ x: 1886, lx: 1880, text: "1886 ± 11", c: DRY }]}
        vio={vioD}
        cps={cpD}
      />
      <Panel
        left={222}
        top={r2}
        tag="(e)"
        title="Drying - Wetting"
        pts={ptsE}
        sm={smE}
        note="n = 12"
        arrows={[
          { x: 1900, lx: 1821, text: "1905 ± 18", c: DRY },
          { x: 1990, lx: 1965, text: "1990 ± 4", c: WET },
        ]}
        vio={vioE}
        cps={cpE}
      />
      <Panel left={415} top={r2} tag="(f)" title="Fluctuating" pts={ptsF} sm={smF} note="n = 8" />
      <SideStrip top={r2} text="Permafrost sites" />
      <div style={{ position: "absolute", left: 265, top: 558, width: 100, textAlign: "center", fontSize: 12.5 }}>
        Age (cal.CE)
      </div>
      <Legends />
    </div>
  );
}
